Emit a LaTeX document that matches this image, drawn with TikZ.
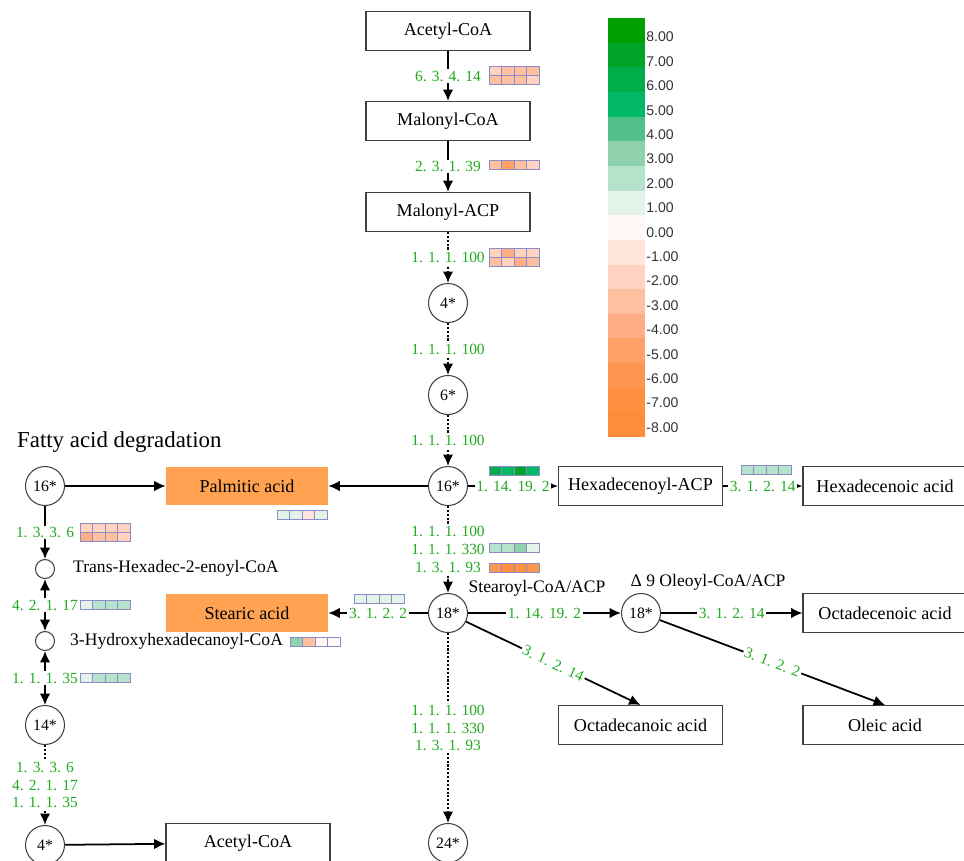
\documentclass[tikz,border=0pt]{standalone}
\usepackage{fontspec}
\setmainfont{Liberation Serif}
\newfontfamily\legendfont{Liberation Sans}
\usepackage{xcolor}
\usetikzlibrary{arrows.meta}
\definecolor{ecgreen}{RGB}{34,170,34}
\definecolor{acidorange}{RGB}{255,163,82}
\definecolor{cellline}{RGB}{140,140,200}
\definecolor{up8}{RGB}{0,160,0}
\definecolor{up7}{RGB}{0,165,40}
\definecolor{up6}{RGB}{0,173,74}
\definecolor{up5}{RGB}{0,184,102}
\definecolor{up4}{RGB}{82,192,138}
\definecolor{up3}{RGB}{142,209,172}
\definecolor{up2}{RGB}{181,226,202}
\definecolor{up1}{RGB}{227,243,234}
\definecolor{zero}{RGB}{255,248,244}
\definecolor{dn1}{RGB}{255,229,218}
\definecolor{dn2}{RGB}{255,211,191}
\definecolor{dn3}{RGB}{255,192,160}
\definecolor{dn4}{RGB}{255,173,132}
\definecolor{dn5}{RGB}{255,160,104}
\definecolor{dn6}{RGB}{255,150,80}
\definecolor{dn7}{RGB}{255,144,64}
\definecolor{dn8}{RGB}{255,140,58}
\tikzset{
	cpd/.style={draw=black!75, line width=0.6pt, minimum width=3.28cm, minimum height=0.78cm, inner sep=0pt, font=\fontsize{10.3}{12}\selectfont},
	acid/.style={fill=acidorange, minimum width=3.24cm, minimum height=0.76cm, inner sep=0pt, font=\fontsize{10.3}{12}\selectfont},
	num/.style={circle, draw=black!75, line width=0.6pt, minimum size=0.78cm, inner sep=0pt, font=\fontsize{9}{10}\selectfont},
	smallc/.style={circle, draw=black!75, line width=0.6pt, minimum size=0.38cm, inner sep=0pt},
	ec/.style={text=ecgreen, fill=white, inner sep=1pt, font=\fontsize{8.8}{10.2}\selectfont},
	cmpname/.style={font=\fontsize{10}{12}\selectfont},
	cell/.style={draw=cellline, line width=0.5pt},
	link/.style={->, line width=1pt},
	dlink/.style={->, line width=1.2pt, densely dotted},
	legtext/.style={anchor=west, inner sep=0pt, text=black!80, font=\legendfont\fontsize{8}{9}\selectfont}
}
\begin{document}
\begin{tikzpicture}[x=0.02cm,y=-0.02cm,>={Latex[length=6.5pt,width=6pt]}]
	\useasboundingbox (0,0) rectangle (964,860);
	\node[cpd] (acetyl) at (448,31) {Acetyl-CoA};
	\node[cpd] (malcoa) at (448,121) {Malonyl-CoA};
	\node[cpd] (malacp) at (448,212) {Malonyl-ACP};
	\node[num] (c4) at (448,303) {4*};
	\node[num] (c6) at (448,395) {6*};
	\node[num] (c16) at (448,486) {16*};
	\node[num] (c18) at (448,613) {18*};
	\node[num] (c24) at (448,843) {24*};
	\node[acid] (palm) at (247,486) {Palmitic acid};
	\node[acid] (stear) at (247,613) {Stearic acid};
	\node[cpd] (hexacp) at (640.5,486) {Hexadecenoyl-ACP};
	\node[cpd] (hexacid) at (885,486) {Hexadecenoic acid};
	\node[num] (c18b) at (641,613) {18*};
	\node[cpd] (octen) at (885,613) {Octadecenoic acid};
	\node[cpd] (octan) at (640.5,725) {Octadecanoic acid};
	\node[cpd] (oleic) at (885,725) {Oleic acid};
	\node[cmpname] (stearoyl) at (537,588) {Stearoyl-CoA/ACP};
	\node[cmpname] (oleoyl) at (708,582) {Δ 9 Oleoyl-CoA/ACP};
	\draw[link] (acetyl) -- node[ec]{6. 3. 4. 14} (malcoa);
	\draw[link] (malcoa) -- node[ec]{2. 3. 1. 39} (malacp);
	\draw[dlink] (malacp) -- node[ec]{1. 1. 1. 100} (c4);
	\draw[dlink] (c4) -- node[ec]{1. 1. 1. 100} (c6);
	\draw[dlink] (c6) -- node[ec]{1. 1. 1. 100} (c16);
	\draw[dlink] (c16) -- node[ec,align=center]{1. 1. 1. 100\\1. 1. 1. 330\\1. 3. 1. 93} (c18);
	\draw[dlink] (c18) -- node[ec,align=center]{1. 1. 1. 100\\1. 1. 1. 330\\1. 3. 1. 93} (c24);
	\draw[link] (c16) -- (palm);
	\draw[link] (c18) -- node[ec]{3. 1. 2. 2} (stear);
	\draw[link] (c16) -- node[ec]{1. 14. 19. 2} (hexacp);
	\draw[link] (hexacp) -- node[ec]{3. 1. 2. 14} (hexacid);
	\draw[link] (c18) -- node[ec]{1. 14. 19. 2} (c18b);
	\draw[link] (c18b) -- node[ec]{3. 1. 2. 14} (octen);
	\draw[link] (c18) -- node[ec,sloped]{3. 1. 2. 14} (octan.north);
	\draw[link] (c18b) -- node[ec,sloped]{3. 1. 2. 2} (oleic.north);
	\node[anchor=west, font=\fontsize{13}{15}\selectfont] (title) at (11,442) {Fatty acid degradation};
	\node[num] (l16) at (45,486) {16*};
	\node[smallc] (t1) at (45,569) {};
	\node[smallc] (t2) at (45,641) {};
	\node[num] (l14) at (45,725) {14*};
	\node[num] (l4) at (45,845) {4*};
	\node[cpd] (acetylb) at (248,843) {Acetyl-CoA};
	\node[cmpname, anchor=west] (trans) at (67,568) {Trans-Hexadec-2-enoyl-CoA};
	\node[cmpname, anchor=west] (hydroxy) at (64,641) {3-Hydroxyhexadecanoyl-CoA};
	\draw[link] (l16) -- (palm);
	\draw[link] (l16) -- node[ec]{1. 3. 3. 6} (t1);
	\draw[link,<->] (t1) -- node[ec]{4. 2. 1. 17} (t2);
	\draw[link,<->] (t2) -- node[ec]{1. 1. 1. 35} (l14);
	\draw[dlink] (l14) -- node[ec,align=center]{1. 3. 3. 6\\4. 2. 1. 17\\1. 1. 1. 35} (l4);
	\draw[link] (l4) -- (acetylb);
	\foreach \col [count=\i from 0] in {dn2,dn3,dn3,dn3}\draw[cell,fill=\col] (489+12.6*\i,66) rectangle ++(12.6,9);
	\foreach \col [count=\i from 0] in {dn3,dn3,dn3,dn2}\draw[cell,fill=\col] (489+12.6*\i,75) rectangle ++(12.6,9);
	\foreach \col [count=\i from 0] in {dn3,dn5,dn3,dn2}\draw[cell,fill=\col] (489+12.6*\i,160.5) rectangle ++(12.6,9);
	\foreach \col [count=\i from 0] in {dn2,dn4,dn2,dn2}\draw[cell,fill=\col] (489+12.6*\i,248) rectangle ++(12.6,9);
	\foreach \col [count=\i from 0] in {dn3,dn2,dn4,dn3}\draw[cell,fill=\col] (489+12.6*\i,257) rectangle ++(12.6,9);
	\foreach \col [count=\i from 0] in {up1,up1,dn1,up1}\draw[cell,fill=\col] (277+12.6*\i,510) rectangle ++(12.6,9);
	\foreach \col [count=\i from 0] in {up6,up5,up7,up5}\draw[cell,fill=\col] (489+12.6*\i,466) rectangle ++(12.6,9);
	\foreach \col [count=\i from 0] in {up2,up2,up2,up2}\draw[cell,fill=\col] (741+12.6*\i,465) rectangle ++(12.6,9);
	\foreach \col [count=\i from 0] in {up2,up2,up3,up1}\draw[cell,fill=\col] (489+12.6*\i,543) rectangle ++(12.6,9);
	\foreach \col [count=\i from 0] in {dn6,dn7,dn7,dn6}\draw[cell,fill=\col] (489+12.6*\i,563) rectangle ++(12.6,9);
	\foreach \col [count=\i from 0] in {up1,up1,up1,up1}\draw[cell,fill=\col] (354+12.6*\i,594) rectangle ++(12.6,9);
	\foreach \col [count=\i from 0] in {dn2,dn2,dn2,dn2}\draw[cell,fill=\col] (80+12.6*\i,523) rectangle ++(12.6,9);
	\foreach \col [count=\i from 0] in {dn4,dn3,dn3,dn2}\draw[cell,fill=\col] (80+12.6*\i,532) rectangle ++(12.6,9);
	\foreach \col [count=\i from 0] in {up1,up2,up2,up2}\draw[cell,fill=\col] (80+12.6*\i,600) rectangle ++(12.6,9);
	\foreach \col [count=\i from 0] in {up3,dn3,zero,zero}\draw[cell,fill=\col] (290+12.6*\i,637) rectangle ++(12.6,9);
	\foreach \col [count=\i from 0] in {up1,up2,up2,up2}\draw[cell,fill=\col] (80+12.6*\i,673) rectangle ++(12.6,9);
	\foreach \col [count=\i from 0] in {up8,up7,up6,up5,up4,up3,up2,up1,zero,dn1,dn2,dn3,dn4,dn5,dn6,dn7,dn8}\fill[\col] (608,18+24.65*\i) rectangle ++(37,24.65);
	\foreach \v [count=\i from 0] in {8.00,7.00,6.00,5.00,4.00,3.00,2.00,1.00,0.00,-1.00,-2.00,-3.00,-4.00,-5.00,-6.00,-7.00,-8.00}\node[legtext] (leg\i) at (646,37+24.4*\i) {\v};
\end{tikzpicture}
\end{document}
